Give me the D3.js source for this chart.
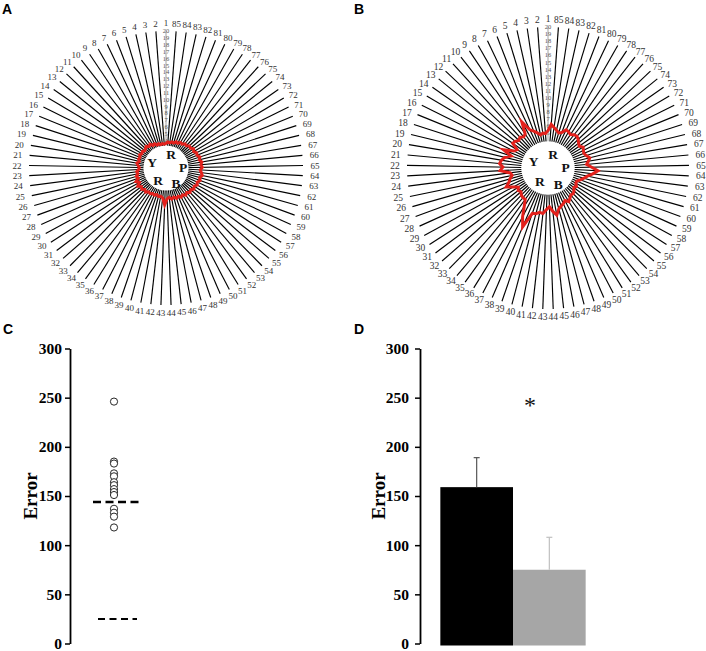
<!DOCTYPE html>
<html><head><meta charset="utf-8">
<script src="https://cdn.jsdelivr.net/npm/d3@7"></script>
<style>body{margin:0;background:#fff} svg{display:block}</style>
</head><body><svg id="c" width="706" height="651"></svg>
<script>
// ---------- data ----------
const radarCategories = d3.range(1, 86).map(String);
const radarTicks = d3.range(1, 21);
const seriesA = [3.6,3.5,3.6,3.5,3.7,3.6,3.9,3.8,4.2,4.0,
  4.3,4.1,4.0,4.2,4.1,4.3,4.1,4.2,4.0,4.3,
  4.1,3.9,4.0,4.3,4.2,4.5,4.3,4.8,4.4,4.9,
  4.5,4.7,4.4,4.6,4.3,4.4,4.2,4.3,4.1,4.3,
  4.2,4.4,5.4,4.5,4.3,4.6,4.4,4.7,4.5,4.8,
  4.6,4.9,4.7,5.0,4.8,5.1,4.9,5.2,5.0,5.3,
  5.1,5.4,5.2,5.0,5.3,5.1,5.3,5.0,5.2,4.9,
  5.0,4.7,4.9,4.6,4.7,4.4,4.5,4.2,4.3,4.0,
  4.1,3.8,3.9,3.7,3.8];
const seriesB = [5.3,4.9,5.0,4.8,5.2,5.6,6.0,7.5,5.8,5.6,
  5.9,5.7,6.0,6.1,5.1,5.4,6.8,5.5,6.3,6.7,
  6.9,6.4,6.8,5.4,5.2,5.6,5.9,6.5,5.6,5.0,
  5.3,5.1,5.4,5.5,5.5,6.4,7.8,9.1,6.8,6.7,
  6.4,6.5,5.9,5.5,6.2,6.8,6.0,5.7,5.5,5.2,
  5.6,5.3,5.0,5.1,4.9,4.6,4.8,4.5,4.5,4.9,
  5.3,5.7,6.4,7.1,6.2,5.5,5.8,6.1,5.7,5.5,
  5.6,5.8,5.4,5.6,5.9,6.1,6.0,5.7,5.9,6.0,
  5.4,5.2,5.5,5.8,6.2];
const discLetters = ["R","Y","P","R","B"];
const errorPoints = [246,185,183,173,170,164,161,157,154,151,137,133,129,118];
const errorMean = 144;
const chanceLevel = 25;
const barGroups = ["Group 1","Group 2"];
const barMeans = [159, 75];
const barErrors = [30, 33];
const yTicks = [0,50,100,150,200,250,300];
const panelLetters = ["A","B","C","D"];

// ---------- setup ----------
const svg = d3.select("#c");
const serif = "'Liberation Serif','Times New Roman',serif";
const sans = "'Liberation Sans',Arial,sans-serif";
const letterOffsets = [[5,-9],[-14,-1.5],[17,3.5],[-8,17],[10,20]];

function drawRadar(values, cfg) {
  const g = svg.append("g").attr("transform", `translate(${cfg.cx},${cfg.cy})`);
  const n = radarCategories.length;
  const step = 2 * Math.PI / n;
  const ang = i => -i * step;
  const r = d3.scaleLinear().domain([0, 20]).range([0, cfg.R]);

  g.selectAll("line.spoke").data(radarCategories).join("line")
    .attr("x1", 0).attr("y1", 0)
    .attr("x2", (d, i) => r(20) * Math.sin(ang(i)))
    .attr("y2", (d, i) => -r(20) * Math.cos(ang(i)))
    .attr("stroke", (d, i) => i === 0 ? "#8a8a8a" : "#000")
    .attr("stroke-width", (d, i) => i === 0 ? 0.8 : 1.15);

  g.append("circle").attr("r", r(cfg.disc)).attr("cx", cfg.dx || 0).attr("cy", cfg.dy || 0).attr("fill", "#fff");

  const discPx = r(cfg.disc);
  g.selectAll("text.tick").data(radarTicks.filter(v => r(v) > discPx + 4)).join("text")
    .attr("x", 0).attr("y", v => -r(v)).attr("dy", "0.35em")
    .attr("text-anchor", "middle")
    .attr("font-family", serif).attr("font-size", 6.5).attr("fill", "#555")
    .text(v => v);

  const line = d3.lineRadial().angle((d, i) => ang(i)).radius(d => r(d)).curve(d3.curveLinearClosed);
  g.append("path").attr("d", line(values)).attr("fill", "none")
    .attr("stroke", "#e3211c").attr("stroke-width", 3).attr("stroke-linejoin", "miter");

  g.selectAll("text.letter").data(discLetters).join("text")
    .attr("x", (d, i) => letterOffsets[i][0] * cfg.ls)
    .attr("y", (d, i) => letterOffsets[i][1] * cfg.ls)
    .attr("text-anchor", "middle")
    .attr("font-family", serif).attr("font-weight", "bold").attr("font-size", 13.5).attr("fill", "#111")
    .text(d => d);

  g.selectAll("text.cat").data(radarCategories).join("text")
    .attr("x", (d, i) => Math.sin(ang(i)) * (r(20) + 4 + 8 * Math.abs(Math.sin(ang(i)))))
    .attr("y", (d, i) => -Math.cos(ang(i)) * (r(20) + 4 + 4 * Math.abs(Math.cos(ang(i)))))
    .attr("dy", "0.35em").attr("text-anchor", "middle")
    .attr("font-family", serif).attr("font-size", cfg.fs).attr("fill", "#333")
    .text(d => d);
}

drawRadar(seriesA, {cx: 166, cy: 168, R: 137, disc: 3.3, fs: 9, ls: 1});
drawRadar(seriesB, {cx: 548, cy: 168, R: 141, disc: 3.8, fs: 9.5, ls: 1.03});

// ---------- lower panels ----------
const y = d3.scaleLinear().domain([0, 300]).range([643.5, 348.5]);

function drawAxis(x0, pad, titleX) {
  const ax = svg.append("g").attr("transform", `translate(${x0},0)`)
    .call(d3.axisLeft(y).tickValues(yTicks).tickSize(5).tickSizeOuter(0).tickPadding(pad));
  ax.select(".domain").attr("stroke", "#000").attr("stroke-width", 1.8);
  ax.selectAll(".tick line").attr("stroke", "#000").attr("stroke-width", 1.5);
  ax.selectAll(".tick text").attr("font-family", serif).attr("font-weight", "bold")
    .attr("font-size", 15.5).attr("fill", "#000");
  svg.append("text").attr("transform", `translate(${titleX},496) rotate(-90)`)
    .attr("text-anchor", "middle").attr("dominant-baseline", "central")
    .attr("font-family", serif).attr("font-weight", "bold").attr("font-size", 19).text("Error");
}

// Panel C
drawAxis(70, 3, 30);
const xC = d3.scaleBand().domain(["C"]).range([70, 158]);
const cC = xC("C") + xC.bandwidth() / 2;
svg.append("line").attr("x1", cC - 21).attr("x2", cC + 25)
  .attr("y1", y(errorMean)).attr("y2", y(errorMean))
  .attr("stroke", "#000").attr("stroke-width", 2.5).attr("stroke-dasharray", "8,4.5");
svg.append("line").attr("x1", cC - 16).attr("x2", cC + 23)
  .attr("y1", y(chanceLevel)).attr("y2", y(chanceLevel))
  .attr("stroke", "#000").attr("stroke-width", 2).attr("stroke-dasharray", "7,4.5");
svg.selectAll("circle.pt").data(errorPoints).join("circle")
  .attr("cx", cC).attr("cy", d => y(d)).attr("r", 3.6)
  .attr("fill", "#fff").attr("stroke", "#111").attr("stroke-width", 0.9);

// Panel D
drawAxis(420, 6, 378);
const xD = d3.scaleBand().domain(barGroups).range([420, 606]).paddingInner(0).paddingOuter(0.28);
const barFill = ["#000", "#a6a6a6"];
const errCol = ["#555", "#c0c0c0"];
svg.selectAll("rect.bar").data(barGroups).join("rect")
  .attr("x", d => xD(d)).attr("width", xD.bandwidth())
  .attr("y", (d, i) => y(barMeans[i])).attr("height", (d, i) => y(0) - y(barMeans[i]) + 2)
  .attr("fill", (d, i) => barFill[i]);
barGroups.forEach((d, i) => {
  const cx = xD(d) + xD.bandwidth() / 2;
  svg.append("line").attr("x1", cx).attr("x2", cx)
    .attr("y1", y(barMeans[i])).attr("y2", y(barMeans[i] + barErrors[i]))
    .attr("stroke", errCol[i]).attr("stroke-width", 1.2);
  svg.append("line").attr("x1", cx - 3).attr("x2", cx + 3)
    .attr("y1", y(barMeans[i] + barErrors[i])).attr("y2", y(barMeans[i] + barErrors[i]))
    .attr("stroke", errCol[i]).attr("stroke-width", 1.2);
});
svg.append("text").attr("x", 530).attr("y", y(234)).attr("text-anchor", "middle")
  .attr("font-family", serif).attr("font-size", 24).attr("fill", "#111").text("*");

// panel letters
const letterPos = [[2, 14], [354, 14], [3, 334], [354, 334]];
svg.selectAll("text.pl").data(panelLetters).join("text")
  .attr("x", (d, i) => letterPos[i][0]).attr("y", (d, i) => letterPos[i][1])
  .attr("font-family", sans).attr("font-weight", "bold").attr("font-size", 14).text(d => d);
</script></body></html>
